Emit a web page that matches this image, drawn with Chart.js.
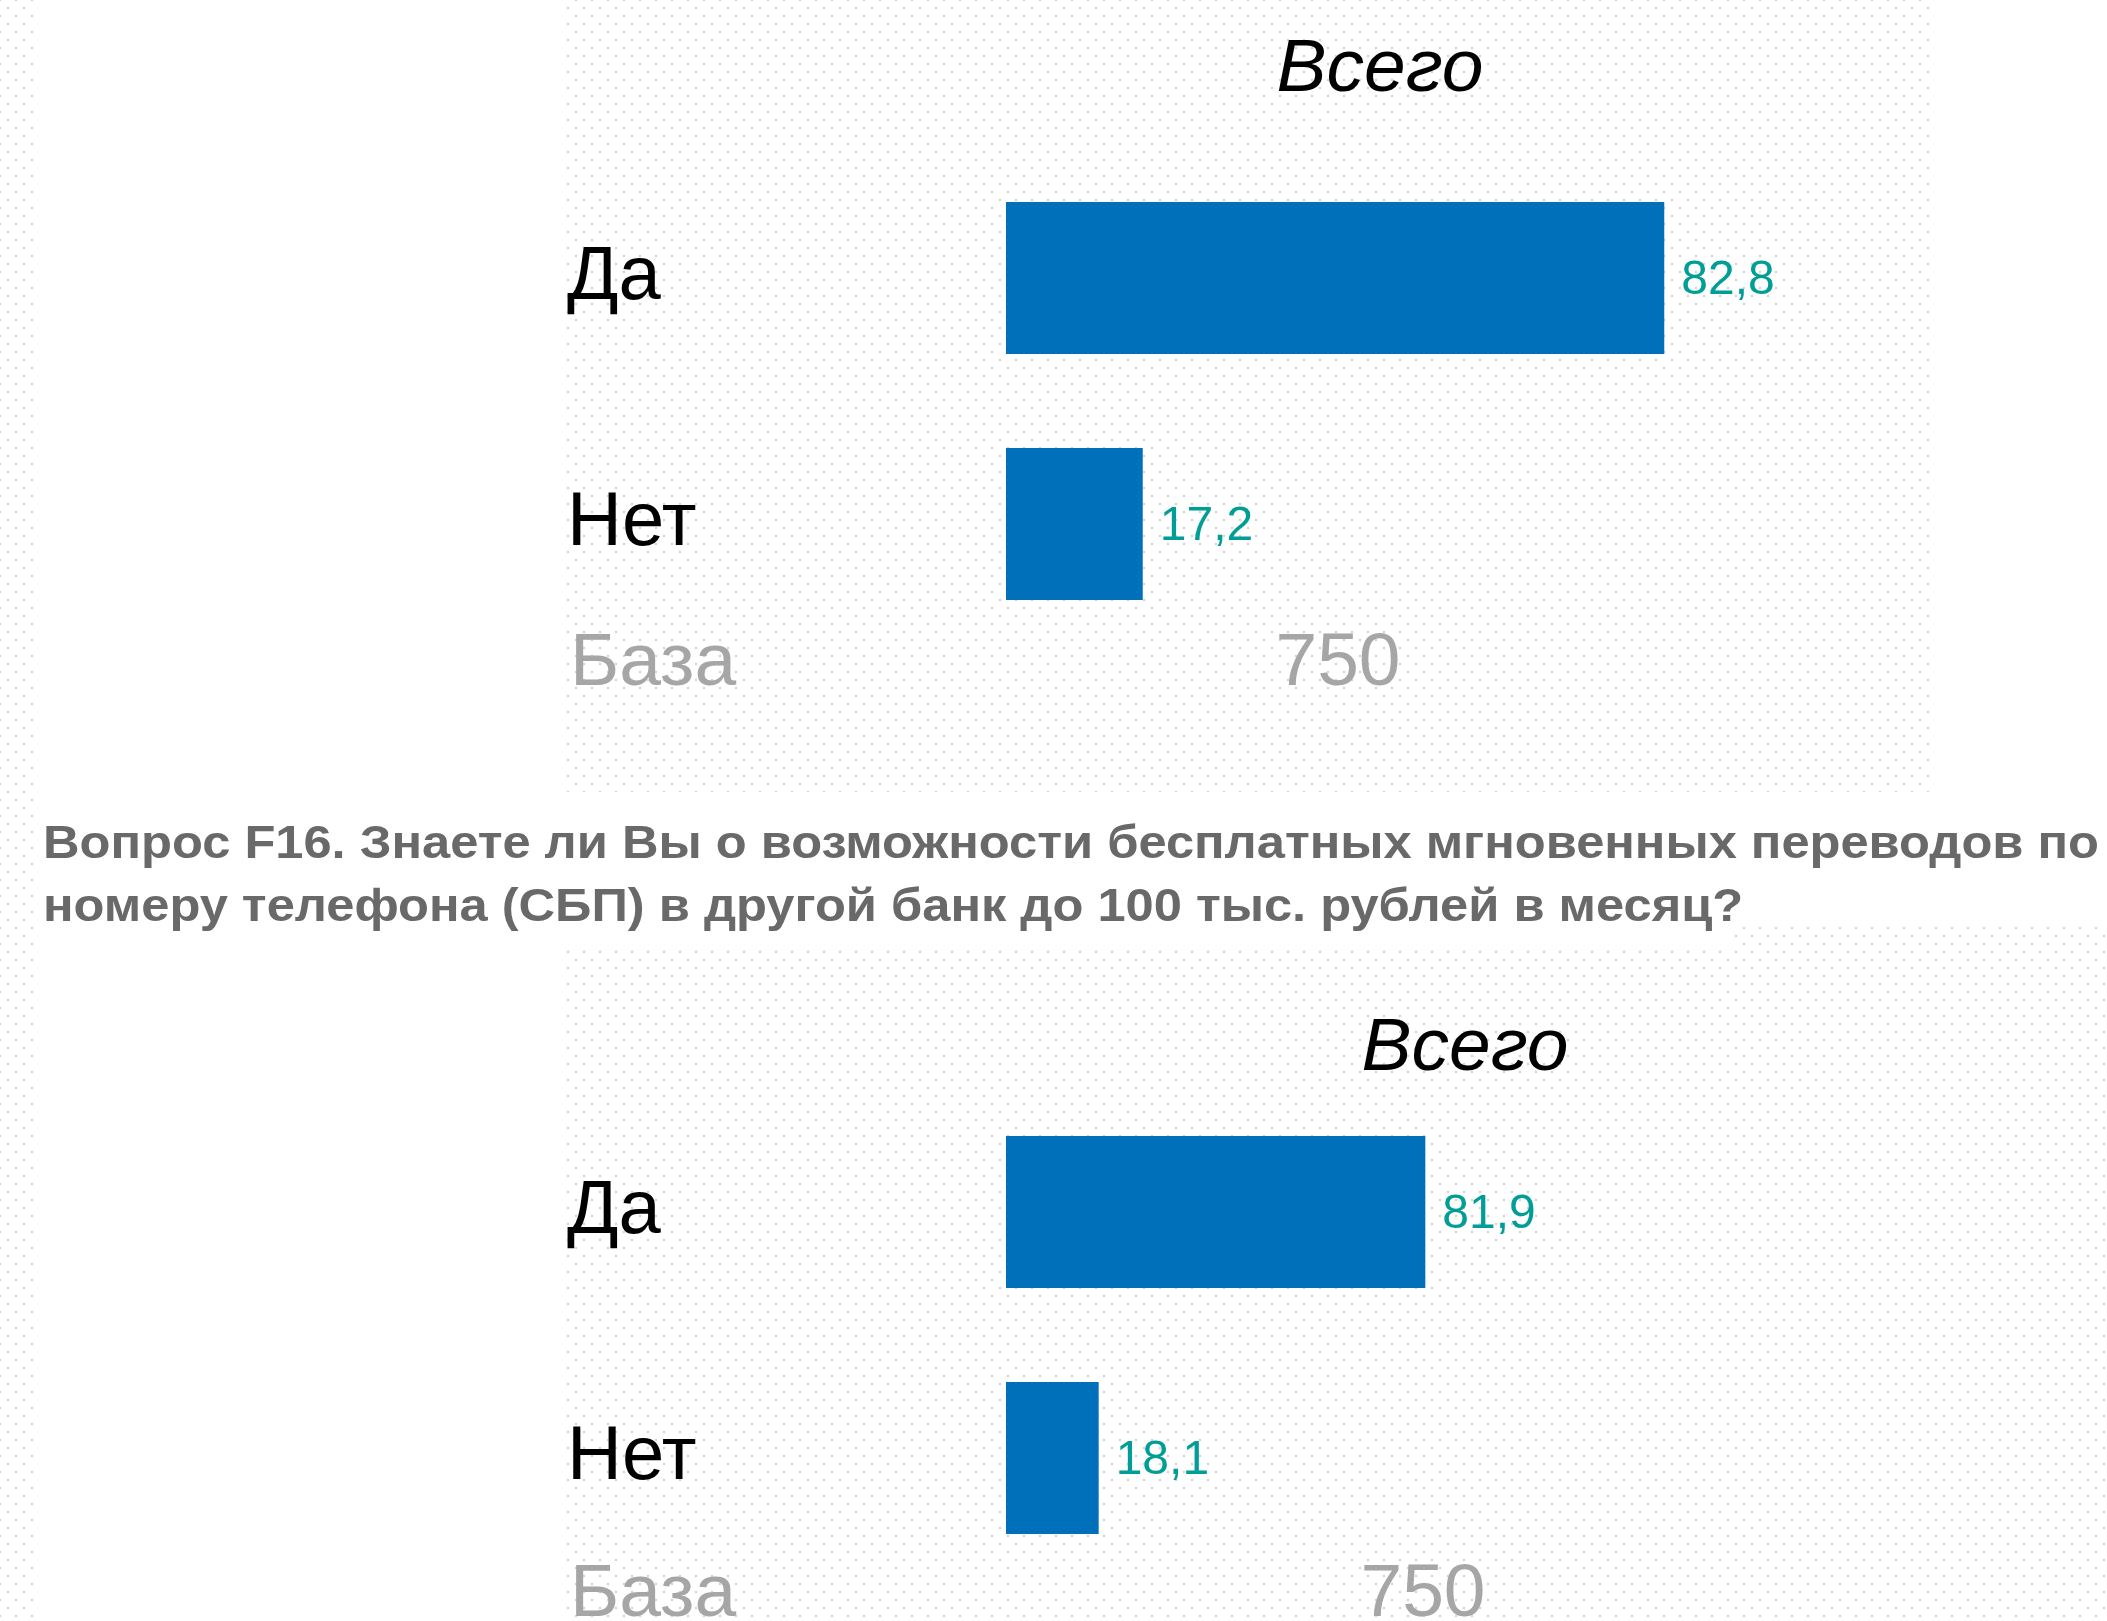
<!DOCTYPE html>
<html lang="ru">
<head>
<meta charset="utf-8">
<title>F16 СБП</title>
<script src="https://cdn.jsdelivr.net/npm/chart.js@4.4.1/dist/chart.umd.min.js"></script>
<style>
  html, body {
    margin: 0;
    padding: 0;
  }
  body {
    width: 2107px;
    height: 1621px;
    overflow: hidden;
    position: relative;
    font-family: 'Liberation Sans', Arial, sans-serif;
    background-color: #fff;
    background-image:
      radial-gradient(circle, #d9d9d9 1.2px, transparent 1.7px),
      radial-gradient(circle, #d9d9d9 1.2px, transparent 1.7px);
    background-size: 16px 16px;
    background-position: 0 0, 8px 8px;
  }
  .white { position: absolute; background: #fff; }
  .box { position: absolute; }
  .txt {
    position: absolute;
    white-space: nowrap;
    line-height: 1;
  }
  .title { font-size: 75px; font-style: italic; color: #000; }
  .base { font-size: 75px; color: #a6a6a6; }
  .question {
    position: absolute;
    left: 43px;
    font-size: 46px;
    font-weight: bold;
    color: #696969;
    line-height: 65px;
    white-space: nowrap;
    transform-origin: 0 0;
  }
</style>
</head>
<body>
  <!-- white patches where the slide has no dotted texture -->
  <div class="white" style="left:36px;top:0;width:530px;height:1621px"></div>
  <div class="white" style="left:1934px;top:0;width:173px;height:792px"></div>
  <div class="white" style="left:36px;top:792px;width:2071px;height:135px"></div>
  <div class="white" style="left:36px;top:927px;width:1696px;height:18px"></div>

  <div class="box" style="left:0;top:0;width:2107px;height:720px"><canvas id="chartTop"></canvas></div>
  <div class="box" style="left:0;top:1000px;width:2107px;height:660px"><canvas id="chartBottom"></canvas></div>

  <div id="titleTop" class="txt title"></div>
  <div id="titleBottom" class="txt title"></div>
  <div id="baseLabelTop" class="txt base"></div>
  <div id="baseValueTop" class="txt base"></div>
  <div id="baseLabelBottom" class="txt base"></div>
  <div id="baseValueBottom" class="txt base"></div>

  <div id="q1" class="question" style="top:810px"></div>
  <div id="q2" class="question" style="top:873px"></div>

<script>
// data
const categories = ['Да', 'Нет'];
const valuesTop = [82.8, 17.2];
const valuesBottom = [81.9, 18.1];
const chartTitle = 'Всего';
const baseLabel = 'База';
const baseTop = 750;
const baseBottom = 750;
const questionLines = [
    'Вопрос F16. Знаете ли Вы о возможности бесплатных мгновенных переводов по',
    'номеру телефона (СБП) в другой банк до 100 тыс. рублей в месяц?'
];

const barColor = '#0070ba';
const valueColor = '#009e96';
const fontFamily = "'Liberation Sans', Arial, sans-serif";

// numbers on the right of each bar, russian decimal comma
const valueLabels = {
    id: 'valueLabels',
    afterDatasetsDraw(chart) {
        const ctx = chart.ctx;
        ctx.save();
        ctx.font = '48px ' + fontFamily;
        ctx.fillStyle = valueColor;
        ctx.textAlign = 'left';
        ctx.textBaseline = 'middle';
        chart.getDatasetMeta(0).data.forEach((bar, i) => {
            const v = chart.data.datasets[0].data[i];
            ctx.fillText(v.toFixed(1).replace('.', ','), bar.x + 17, bar.y + 3);
        });
        ctx.restore();
    }
};

function makeChart(id, values, padding) {
    return new Chart(document.getElementById(id), {
        type: 'bar',
        data: {
            labels: categories,
            datasets: [{
                data: values,
                backgroundColor: barColor,
                borderWidth: 0,
                categoryPercentage: 1,
                barPercentage: 0.618
            }]
        },
        options: {
            indexAxis: 'y',
            responsive: true,
            maintainAspectRatio: false,
            animation: false,
            layout: { padding: padding },
            plugins: {
                legend: { display: false },
                tooltip: { enabled: false }
            },
            scales: {
                x: {
                    display: false,
                    min: 0,
                    max: 100
                },
                y: {
                    grid: { display: false },
                    border: { display: false },
                    ticks: {
                        crossAlign: 'far',
                        color: '#000',
                        font: { family: fontFamily, size: 76 }
                    },
                    afterFit(scale) {
                        scale.width = 439;
                    }
                }
            }
        },
        plugins: [valueLabels]
    });
}

makeChart('chartTop', valuesTop, { left: 567, right: 306, top: 155, bottom: 73 });
makeChart('chartBottom', valuesBottom, { left: 567, right: 589, top: 89, bottom: 79 });

// text blocks
function place(id, text, left, top, centered) {
    const el = document.getElementById(id);
    el.textContent = text;
    el.style.left = left + 'px';
    el.style.top = top + 'px';
    if (centered) el.style.transform = 'translateX(-50%)';
}
place('titleTop', chartTitle, 1380, 28, true);
place('titleBottom', chartTitle, 1465, 1007, true);
place('baseLabelTop', baseLabel, 570, 622, false);
place('baseValueTop', String(baseTop), 1338, 622, true);
place('baseLabelBottom', baseLabel, 570, 1553, false);
place('baseValueBottom', String(baseBottom), 1423, 1553, true);

// question text is stretched wide on the slide
const q1 = document.getElementById('q1');
const q2 = document.getElementById('q2');
q1.textContent = questionLines[0];
q2.textContent = questionLines[1];
const stretch = 2056 / q1.getBoundingClientRect().width;
q1.style.transform = 'scaleX(' + stretch + ')';
q2.style.transform = 'scaleX(' + stretch + ')';
</script>
</body>
</html>
